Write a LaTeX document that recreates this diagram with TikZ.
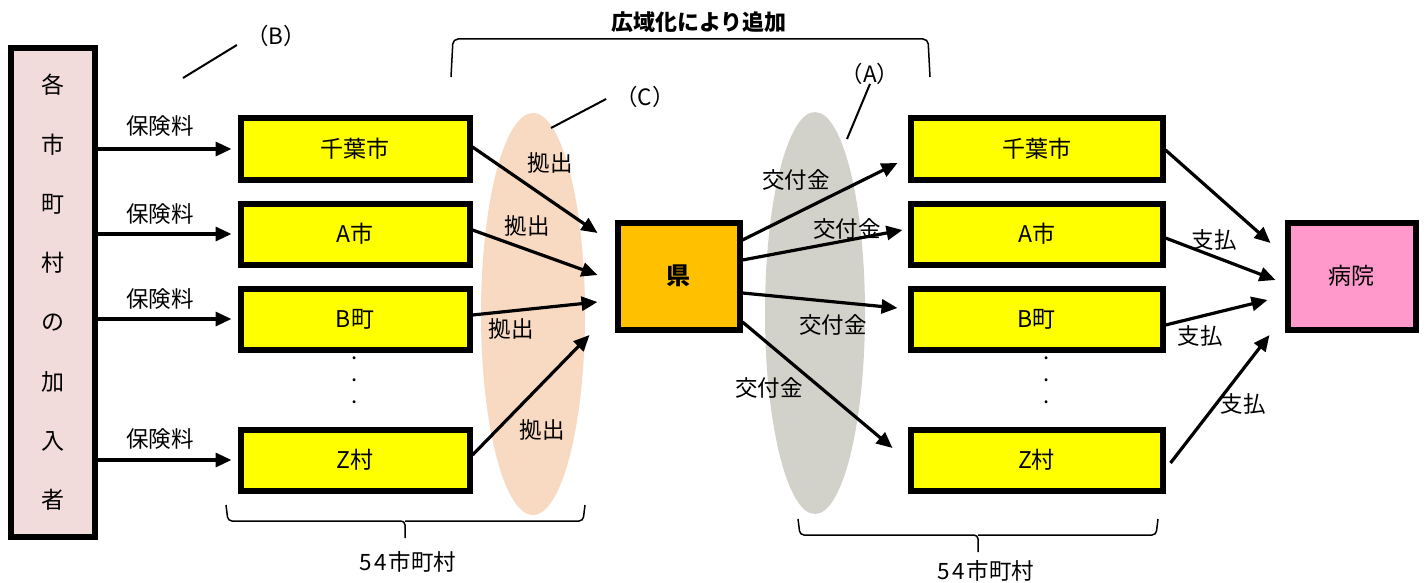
\documentclass[tikz,border=0pt]{standalone}
\usepackage{fontspec}
\setmainfont{Noto Sans CJK JP}
\usetikzlibrary{arrows.meta,calc}
\definecolor{kakupink}{HTML}{F2DCDB}
\definecolor{boxyellow}{HTML}{FFFF00}
\definecolor{kenorange}{HTML}{FFC000}
\definecolor{byopink}{HTML}{FF99CC}
\definecolor{peach}{HTML}{F8DAC2}
\definecolor{greyov}{HTML}{D2D2CB}
\begin{document}
\begin{tikzpicture}[x=1pt,y=-1pt,
  box/.style={draw, line width=6pt, inner sep=0pt, font=\fontsize{23pt}{27pt}\selectfont},
  city/.style={box, fill=boxyellow, minimum width=229pt, minimum height=61pt},
  rcity/.style={box, fill=boxyellow, minimum width=252pt, minimum height=61pt},
  arr/.style={line width=3.2pt, -{Triangle[length=16pt,width=14pt]}},
  lab/.style={font=\fontsize{22.5pt}{26pt}\selectfont, inner sep=1pt},
  thin/.style={line width=1.5pt}]
\useasboundingbox (0,0) rectangle (1426,583);

% ellipses
\fill[peach] (533,314) ellipse [x radius=52, y radius=201];
\fill[greyov] (815,313) ellipse [x radius=50, y radius=201];

% left column
\node[box, fill=kakupink, minimum width=84pt, minimum height=488pt, align=center,
  font=\fontsize{23pt}{59.3pt}\selectfont] (kaku) at (52.5,292.5)
  {各\\市\\町\\村\\の\\加\\入\\者};

\node[city] (c1) at (355,149) {千葉市};
\node[city] (c2) at (355,234) {A市};
\node[city] (c3) at (355,319) {B町};
\node[city] (c4) at (355,460) {Z村};

\node[box, fill=kenorange, minimum width=122pt, minimum height=107pt, font=\fontsize{24pt}{28pt}\selectfont\bfseries] (ken) at (678.5,276) {県};

\node[rcity] (r1) at (1036.5,149) {千葉市};
\node[rcity] (r2) at (1036.5,234) {A市};
\node[rcity] (r3) at (1036.5,319) {B町};
\node[rcity] (r4) at (1036.5,460) {Z村};

\node[box, fill=byopink, minimum width=128pt, minimum height=107pt] (byo) at (1351.5,276) {病院};

% vertical dots
\node[font=\fontsize{22pt}{22pt}\selectfont, align=center] (dl) at (355,380) {.\\.\\.};
\node[font=\fontsize{22pt}{22pt}\selectfont, align=center] (dr) at (1047,380) {.\\.\\.};

% premiums
\foreach \c/\ly in {c1/126,c2/214,c3/299,c4/439}{
  \draw[arr, shorten >=6pt] (kaku.east |- \c.west) -- (\c.west);
  \node[lab] at (160,\ly) {保険料};
}

% contributions to ken
\draw[arr] ($(c1.east)+(0,-2)$) -- ($(ken.west)+(-17,-43)$);
\draw[arr] ($(c2.east)+(0,-4)$) -- ($(ken.west)+(-17,-1)$);
\draw[arr] ($(c3.east)+(0,-4)$) -- ($(ken.west)+(-17,26)$);
\draw[arr] ($(c4.east)+(0,-5)$) -- ($(ken.west)+(-25,59)$);
\node[lab] at (550,163) {拠出};
\node[lab] at (527,226) {拠出};
\node[lab] at (511,329) {拠出};
\node[lab] at (542,430) {拠出};

% grants from ken
\draw[arr] ($(ken.east)+(0,-36)$) -- ($(r1.west)+(-10,14)$);
\draw[arr] ($(ken.east)+(0,-16)$) -- ($(r2.west)+(-5,-4)$);
\draw[arr] ($(ken.east)+(0,17)$) -- ($(r3.west)+(-10,-11)$);
\draw[arr] ($(ken.east)+(0,46)$) -- ($(r4.west)+(-15,-12)$);
\node[lab] at (796,180) {交付金};
\node[lab] at (847,229) {交付金};
\node[lab] at (833,325) {交付金};
\node[lab] at (769,388) {交付金};

% payments to hospital
\draw[arr] ($(r1.east)+(0,1)$) -- ($(byo.west)+(-14,-33)$);
\draw[arr] ($(r2.east)+(0,4)$) -- ($(byo.west)+(-9,4)$);
\draw[arr] ($(r3.east)+(0,6)$) -- ($(byo.west)+(-17,24)$);
\draw[arr] ($(r4.east)+(5,3)$) -- ($(byo.west)+(-15,59)$);
\node[lab] at (1214,240) {支払};
\node[lab] at (1200,336) {支払};
\node[lab] at (1243,404) {支払};

% callouts
\node[lab] (lb) at (276,36) {（B）};
\node[lab] (lc) at (645,97) {（C）};
\node[lab] (la) at (870,74) {（A）};
\coordinate (pb) at (183,78);
\coordinate (pc) at (551,128);
\coordinate (pa) at (847,139);
\draw[line width=2pt] (pb) -- ($(lb.west)+(-8,9)$);
\draw[line width=2pt] (pc) -- ($(lc.west)+(-8,2)$);
\draw[line width=2pt] (pa) -- ($(la.south)+(0,-2)$);

% top bracket
\node[font=\fontsize{22pt}{26pt}\selectfont\bfseries] (top) at (699,22) {広域化により追加};
\draw[thin, rounded corners=5pt] (451,77) -- (453,39) -- (928,39) -- (930,77);

% bottom braces
\draw[thin, rounded corners=4pt] (226,505) -- (228,521) -- (405,521) -- (405,538);
\draw[thin, rounded corners=4pt] (585,505) -- (583,521) -- (405,521);
\node[lab] (nl) at (408,562) {5\hspace{2pt}4\hspace{2pt}市町村};
\draw[thin, rounded corners=4pt] (798,519) -- (800,535) -- (978,535) -- (978,552);
\draw[thin, rounded corners=4pt] (1158,519) -- (1156,535) -- (978,535);
\node[lab] (nr) at (986,571) {5\hspace{2pt}4\hspace{2pt}市町村};
\end{tikzpicture}
\end{document}
